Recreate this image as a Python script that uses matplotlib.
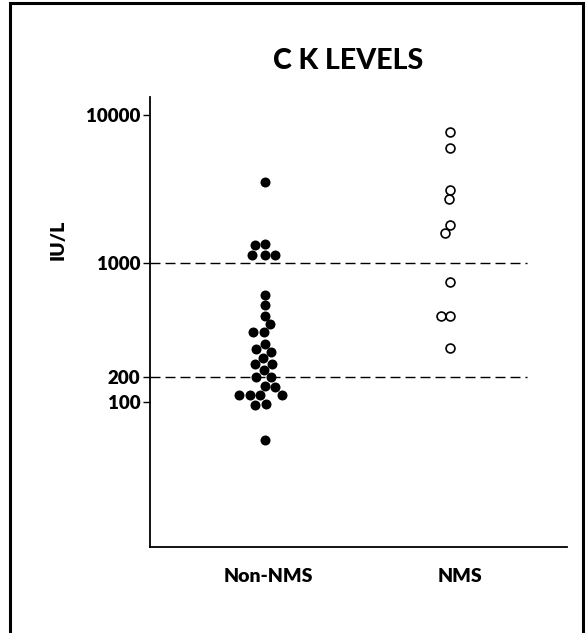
"""
C K LEVELS - scatter (dot) plot of creatine kinase in Non-NMS vs NMS patients.
Values are read off the original figure.
"""

import numpy as np
import matplotlib
matplotlib.use("Agg")
import matplotlib.pyplot as plt
from matplotlib.patches import Rectangle

# CK values, IU/L
NON_NMS = [3500, 1350, 1320, 1130, 1130, 1130, 640, 550, 475, 420,
           375, 375, 320, 295, 285, 260, 240, 240, 220, 198,
           198, 155, 150, 120, 120, 120, 120, 97, 96, 55]
NMS = [7700, 6000, 3100, 2700, 1800, 1600, 760, 470, 470, 300]

GROUPS = ["Non-NMS", "NMS"]
Y_TICKS = [100, 200, 1000, 10000]
CUTOFFS = [200, 1000]

# The original axis is drawn by hand: log-like, but the 100-200 step is
# squeezed and the 200-1000 step stretched. A piecewise log mapping copies it.
SCALE_LOG = [1, 2, np.log10(200), 3, 4, 5]
SCALE_POS = [0, 148, 173, 287, 435, 583]

FONT = "Lato"


def fwd(v):
    v = np.clip(np.asarray(v, dtype=float), 1e-6, None)
    return np.interp(np.log10(v), SCALE_LOG, SCALE_POS)


def inv(p):
    return 10 ** np.interp(np.asarray(p, dtype=float), SCALE_POS, SCALE_LOG)


def swarm_x(ax, xc, values, d):
    """Simple beeswarm: offsets found in pixel space, returned as data x."""
    pts = ax.transData.transform(np.column_stack([np.full(len(values), xc), values]))
    ypix = pts[:, 1]
    a, b = ax.transData.transform([[0, 100], [1, 100]])
    px_per_unit = b[0] - a[0]
    xs = np.zeros(len(values))
    placed = []
    for i in np.argsort(-np.asarray(values)):
        y = ypix[i]
        cands = [0.0]
        for px, py in placed:
            dy = y - py
            if abs(dy) < d:
                dx = np.sqrt(d * d - dy * dy)
                cands += [px - dx, px + dx]
        cands.sort(key=abs)
        for c in cands:
            if all((c - px) ** 2 + (y - py) ** 2 >= d * d - 1e-6 for px, py in placed):
                xs[i] = c
                break
        placed.append((xs[i], y))
    return xc + xs / px_per_unit


fig = plt.figure(figsize=(5.88, 6.33), dpi=100)
ax = fig.add_axes([150 / 588, 1 - 547 / 633, 417 / 588, 450 / 633])

ax.set_yscale("function", functions=(fwd, inv))
ax.set_ylim(10.5, 13200)
ax.set_xlim(-0.622, 1.632)

for s in ("top", "right"):
    ax.spines[s].set_visible(False)
for s in ("left", "bottom"):
    ax.spines[s].set_linewidth(1.3)

ax.set_yticks(Y_TICKS, [str(t) for t in Y_TICKS])
ax.minorticks_off()
ax.tick_params(axis="y", direction="out", length=5, width=1, pad=2,
               labelsize=13.5)
ax.set_xticks([0.02, 1.055], GROUPS)
ax.tick_params(axis="x", length=0, pad=15, labelsize=14)
for lab in ax.get_xticklabels() + ax.get_yticklabels():
    lab.set_fontfamily(FONT)
    lab.set_fontweight("heavy")

for c in CUTOFFS:
    ax.axhline(c, xmin=0, xmax=0.904, color="black", lw=1.0,
               dashes=(7.2, 3.6), zorder=1)

# dots
xs = swarm_x(ax, 0, NON_NMS, 10.4)
ax.plot(xs, NON_NMS, "o", ms=7.2, color="black", mec="black", mew=0,
        clip_on=False, zorder=3)
xs = swarm_x(ax, 1, NMS, 9.0)
ax.plot(xs, NMS, "o", ms=6.4, mfc="white", mec="black", mew=1.2,
        clip_on=False, zorder=3)

fig.text(348 / 588, 1 - 69 / 633, "C K LEVELS", ha="center", va="baseline",
         fontsize=20.5, fontweight="black", family=FONT)
fig.text(58 / 588, 1 - 240 / 633, "IU/L", rotation=90, ha="center",
         va="center", fontsize=14, fontweight="heavy", family=FONT)

# outer frame (its bottom edge is cut off in the original)
fig.add_artist(Rectangle((10 / 588, -0.1), 573 / 588, 1.1 - 3 / 633,
                         transform=fig.transFigure, fill=False,
                         lw=2.2, ec="black"))

fig.savefig("out.png", dpi=100, facecolor="white")
